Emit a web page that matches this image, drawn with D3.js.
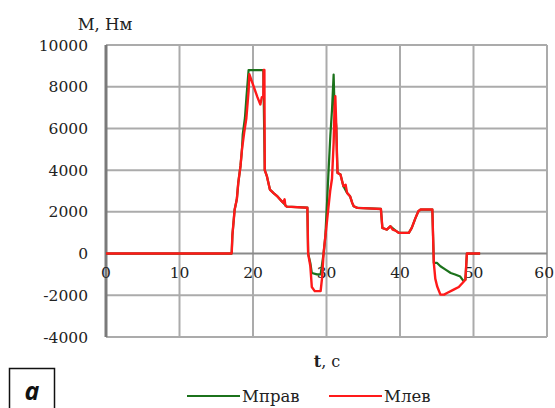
<!DOCTYPE html>
<html>
<head>
<meta charset="utf-8">
<script src="https://cdn.jsdelivr.net/npm/d3@7"></script>
<style>
  html, body { margin: 0; padding: 0; background: #fff; }
  svg { display: block; }
</style>
</head>
<body>
<div id="app"></div>
<script>
// tick values
const xTicks = [0, 10, 20, 30, 40, 50, 60];
const yTicks = [-4000, -2000, 0, 2000, 4000, 6000, 8000, 10000];

// Млев (red), [t, M]
const mLeft = [
  [0, 0], [17.1, 0], [17.2, 900], [17.5, 2100], [17.8, 2600], [18.0, 3400],
  [18.3, 4200], [18.5, 5000], [18.8, 5800], [19.1, 6500], [19.4, 7800], [19.5, 8600],
  [20.0, 8100], [20.6, 7500], [21.0, 7150], [21.2, 7500], [21.4, 7500], [21.45, 8800],
  [21.55, 8800], [21.6, 4000], [21.9, 3700], [22.3, 3070], [22.8, 2900], [23.3, 2750],
  [23.8, 2550], [24.1, 2440], [24.3, 2600], [24.4, 2300], [24.6, 2250], [27.4, 2200],
  [27.5, 0], [27.8, -600], [28.0, -1600], [28.4, -1800], [29.2, -1800], [29.4, -1150],
  [29.6, 0], [29.9, 1000], [30.2, 2000], [30.5, 3000], [30.75, 3600], [30.97, 5300],
  [31.1, 7060], [31.2, 7540], [31.33, 6100], [31.43, 4670], [31.5, 3870], [31.9, 3790],
  [32.3, 3230], [32.6, 3300], [32.8, 2910], [33.2, 2750], [33.5, 2430], [33.7, 2270],
  [34.2, 2190], [37.4, 2140], [37.6, 1230], [38.2, 1150], [38.7, 1310], [39.0, 1150],
  [39.4, 1100], [39.8, 1000], [41.2, 990], [41.6, 1230], [42.1, 1700], [42.5, 2030],
  [42.8, 2110], [44.4, 2110], [44.6, -450], [44.8, -1200], [45.05, -1570], [45.5, -1970],
  [46.0, -1970], [46.4, -1890], [47.3, -1730], [48.0, -1600], [48.5, -1410], [48.9, -1250],
  [49.1, 0], [50.9, 0]
];

// Мправ (green), [t, M]
const mRight = [
  [0, 0], [17.1, 0], [17.2, 900], [17.5, 2100], [17.8, 2600], [18.0, 3400],
  [18.3, 4200], [18.5, 5000], [18.6, 5700], [18.9, 6500], [19.1, 7470], [19.4, 8800],
  [21.4, 8800], [21.6, 4000], [21.9, 3700], [22.3, 3070], [22.8, 2900], [23.3, 2750],
  [23.8, 2550], [24.1, 2440], [24.6, 2250], [27.4, 2200], [27.5, 0], [27.8, -450],
  [28.0, -930], [28.7, -1000], [29.2, -1000], [29.6, 0], [29.84, 830], [30.07, 2430],
  [30.29, 4030], [30.52, 5630], [30.75, 6900], [30.97, 8585], [31.1, 6900], [31.33, 6100],
  [31.43, 4670], [31.5, 3870], [31.9, 3790], [32.3, 3230], [32.8, 2910], [33.2, 2750],
  [33.5, 2430], [33.7, 2270], [34.2, 2190], [37.4, 2140], [37.6, 1230], [38.2, 1150],
  [38.7, 1310], [39.4, 1100], [39.8, 1000], [41.2, 990], [41.6, 1230], [42.1, 1700],
  [42.5, 2030], [42.8, 2110], [44.4, 2110], [44.6, -450], [45.05, -450], [45.5, -610],
  [46.2, -770], [46.9, -930], [47.5, -1000], [48.2, -1100], [48.6, -1300], [48.9, -1250],
  [49.1, 0], [50.9, 0]
];

const series = [
  { name: 'Мправ', color: '#1b721b', data: mRight },
  { name: 'Млев', color: '#ff1a1a', data: mLeft }
];

const width = 555;
const height = 408;
const serif = 'DejaVu Serif, serif';

const svg = d3.select('#app')
  .append('svg')
  .attr('width', width)
  .attr('height', height);

const x = d3.scaleLinear().domain([0, 60]).range([106, 547]);
const y = d3.scaleLinear().domain([-4000, 10000]).range([337, 45]);

// grid
svg.append('g')
  .selectAll('line')
  .data(xTicks.filter((d) => d > 0))
  .enter()
  .append('line')
  .attr('x1', (d) => x(d))
  .attr('x2', (d) => x(d))
  .attr('y1', y(10000))
  .attr('y2', y(-4000))
  .attr('stroke', '#ababab')
  .attr('stroke-width', 2);

svg.append('g')
  .selectAll('line')
  .data(yTicks.filter((d) => d !== 0))
  .enter()
  .append('line')
  .attr('x1', x(0))
  .attr('x2', x(60))
  .attr('y1', (d) => y(d))
  .attr('y2', (d) => y(d))
  .attr('stroke', '#ababab')
  .attr('stroke-width', 2);

// zero line and left axis
svg.append('line')
  .attr('x1', x(0)).attr('x2', x(60))
  .attr('y1', y(0)).attr('y2', y(0))
  .attr('stroke', '#8a8a8a')
  .attr('stroke-width', 2);

svg.append('line')
  .attr('x1', x(0)).attr('x2', x(0))
  .attr('y1', y(10000)).attr('y2', y(-4000))
  .attr('stroke', '#7a7a7a')
  .attr('stroke-width', 3);

// tick labels
svg.append('g')
  .selectAll('text')
  .data(yTicks)
  .enter()
  .append('text')
  .attr('x', 88)
  .attr('y', (d) => y(d))
  .attr('dy', '0.36em')
  .attr('text-anchor', 'end')
  .attr('font-family', serif)
  .attr('font-size', 15.5)
  .attr('fill', '#222')
  .text((d) => d);

svg.append('g')
  .selectAll('text')
  .data(xTicks)
  .enter()
  .append('text')
  .attr('x', (d) => (d === 60 ? 554 : x(d)))
  .attr('y', y(0) + 19)
  .attr('dy', '0.36em')
  .attr('text-anchor', (d) => (d === 60 ? 'end' : 'middle'))
  .attr('font-family', serif)
  .attr('font-size', 15.5)
  .attr('fill', '#222')
  .text((d) => d);

// lines
const line = d3.line()
  .x((d) => x(d[0]))
  .y((d) => y(d[1]));

svg.append('g')
  .selectAll('path')
  .data(series)
  .enter()
  .append('path')
  .attr('d', (d) => line(d.data))
  .attr('fill', 'none')
  .attr('stroke', (d) => d.color)
  .attr('stroke-width', (d, i) => (i === 0 ? 2.2 : 2.4))
  .attr('stroke-linejoin', 'round');

// axis titles
svg.append('text')
  .attr('x', 105)
  .attr('y', 24)
  .attr('dy', '0.36em')
  .attr('text-anchor', 'middle')
  .attr('font-family', serif)
  .attr('font-size', 16.5)
  .attr('fill', '#222')
  .text('M, Нм');

const tTitle = svg.append('text')
  .attr('x', 327)
  .attr('y', 361)
  .attr('dy', '0.36em')
  .attr('text-anchor', 'middle')
  .attr('font-family', serif)
  .attr('font-size', 16)
  .attr('fill', '#222');
tTitle.append('tspan').attr('font-weight', 'bold').text('t');
tTitle.append('tspan').text(', c');

// legend
const legendX = [187, 329];
const legend = svg.append('g')
  .selectAll('g')
  .data(series)
  .enter()
  .append('g')
  .attr('transform', (d, i) => `translate(${legendX[i]},396)`);

legend.append('line')
  .attr('x1', 0)
  .attr('x2', 53)
  .attr('stroke', (d) => d.color)
  .attr('stroke-width', 2);

legend.append('text')
  .attr('x', 55)
  .attr('dy', '0.36em')
  .attr('font-family', serif)
  .attr('font-size', 16.5)
  .attr('fill', '#222')
  .text((d) => d.name);

// panel label
svg.append('rect')
  .attr('x', 9.5)
  .attr('y', 368.5)
  .attr('width', 45)
  .attr('height', 50)
  .attr('fill', 'none')
  .attr('stroke', '#111')
  .attr('stroke-width', 1.5);

svg.append('text')
  .attr('x', 32)
  .attr('y', 400)
  .attr('text-anchor', 'middle')
  .attr('font-family', 'Open Sans, sans-serif')
  .attr('font-style', 'italic')
  .attr('font-weight', 'bold')
  .attr('font-size', 25)
  .attr('fill', '#111')
  .text('a');
</script>
</body>
</html>
